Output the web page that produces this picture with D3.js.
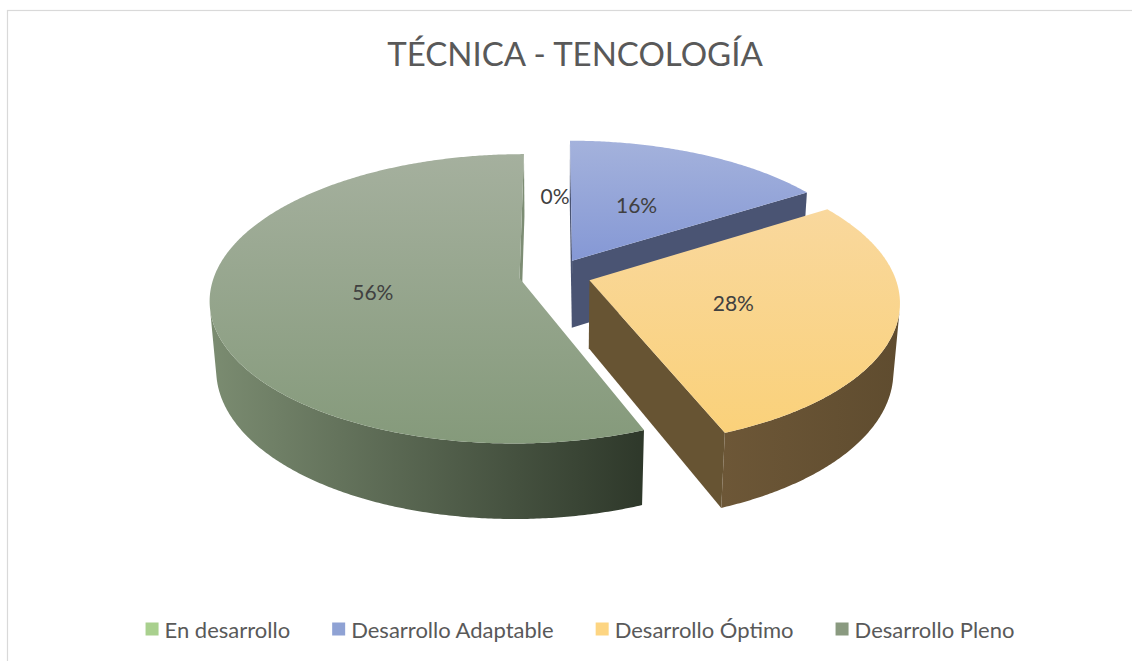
<!DOCTYPE html>
<html>
<head>
<meta charset="utf-8">
<script src="https://cdn.jsdelivr.net/npm/d3@7"></script>
<style>
	body { margin: 0; background: #fff; }
	svg { display: block; font-family: Lato, "Open Sans", sans-serif; }
</style>
</head>
<body>
<svg id="chart" width="1132" height="661"></svg>
<script>
// data
const chartTitle = "TÉCNICA - TENCOLOGÍA";
const categories = ["En desarrollo", "Desarrollo Adaptable", "Desarrollo Óptimo", "Desarrollo Pleno"];
const values = [0, 16, 28, 56];
const valueLabels = ["0%", "16%", "28%", "56%"];

// colours per category (legend swatch, top face gradient, wall gradient, cut face)
const legendColors = ["#a9d08e", "#8fa2d4", "#fdd582", "#8a9a80"];
const topColors = [["#b5d8a0", "#a2c98a"], ["#a4b2dc", "#8598d5"], ["#f9d89d", "#fad17a"], ["#a5b09e", "#859a7b"]];
const wallColors = [["#6b8a58", "#4f6a40"], ["#4c5675", "#444e6b"], ["#6d5737", "#5f4c2f"], ["#7b8c71", "#2e382a"]];
const cutColors = ["#7a9a66", "#4a5473", "#675433", "#7d8d74"];

var svg = d3.select("#chart");

// chart border
svg.append("rect")
	.attr("x", 7.5).attr("y", 10.5)
	.attr("width", 1130).attr("height", 660)
	.attr("fill", "#fff")
	.attr("stroke", "#d9d9d9")
	.attr("stroke-width", 1.2);

svg.append("text")
	.attr("x", 575).attr("y", 66)
	.attr("text-anchor", "middle")
	.attr("font-size", "33px")
	.attr("fill", "#595959")
	.text(chartTitle);

// 3d pie settings
var cx = 555, cy = 275, R = 305, explode = 36, depth = 78, D = 1900;
var tilt = 27.5 * Math.PI / 180;
var sinE = Math.sin(tilt), cosE = Math.cos(tilt);
var camY = -D * cosE; // camera sits at X = 0, in front of the pie

function project(X, Y, h) {
	var f = D / (D + Y * cosE - h * sinE);
	return [cx + X * f, cy - (Y * sinE + h * cosE) * f];
}

var pie = d3.pie().sort(null).value(function (d) { return d; });
var arcs = pie(values);
arcs.forEach(function (a, i) {
	a.i = i;
	a.mid = (a.startAngle + a.endAngle) / 2;
	a.ox = explode * Math.sin(a.mid);
	a.oy = explode * Math.cos(a.mid);
});

var line = d3.line();
var defs = svg.append("defs");

function addGradient(id, c, vertical) {
	var g = defs.append("linearGradient").attr("id", id)
		.attr("x1", 0).attr("y1", 0)
		.attr("x2", vertical ? 0 : 1).attr("y2", vertical ? 1 : 0);
	g.append("stop").attr("offset", "0%").attr("stop-color", c[0]);
	g.append("stop").attr("offset", "100%").attr("stop-color", c[1]);
}

categories.forEach(function (c, i) {
	addGradient("top" + i, topColors[i], true);
	addGradient("wall" + i, wallColors[i], false);
});

function rim(a, ang, h) {
	return project(a.ox + R * Math.sin(ang), a.oy + R * Math.cos(ang), h);
}

var pieGroup = svg.append("g").attr("id", "pie");

// back slices first
var drawOrder = arcs.filter(function (a) { return a.value > 0; })
	.sort(function (p, q) { return q.oy - p.oy; });

drawOrder.forEach(function (a) {
	var g = pieGroup.append("g");
	var i = a.i;
	var a0 = a.startAngle, a1 = a.endAngle;
	var cTop = project(a.ox, a.oy, 0), cBot = project(a.ox, a.oy, -depth);

	// cut faces
	var startVisible = (0 - a.ox) * (-Math.cos(a0)) + (camY - a.oy) * Math.sin(a0) > 0;
	var endVisible = (0 - a.ox) * Math.cos(a1) + (camY - a.oy) * (-Math.sin(a1)) > 0;
	if (startVisible) {
		g.append("path")
			.attr("d", line([cTop, rim(a, a0, 0), rim(a, a0, -depth), cBot]) + "Z")
			.attr("fill", cutColors[i]);
	}
	if (endVisible) {
		g.append("path")
			.attr("d", line([cTop, rim(a, a1, 0), rim(a, a1, -depth), cBot]) + "Z")
			.attr("fill", cutColors[i]);
	}

	// outer wall, only the parts that face the camera
	var steps = Math.max(2, Math.ceil((a1 - a0) / (Math.PI / 360)));
	var runs = [], run = null;
	for (var s = 0; s <= steps; s++) {
		var ang = a0 + (a1 - a0) * s / steps;
		var px = a.ox + R * Math.sin(ang), py = a.oy + R * Math.cos(ang);
		var vis = (0 - px) * Math.sin(ang) + (camY - py) * Math.cos(ang) > 0;
		if (vis) {
			if (!run) { run = []; runs.push(run); }
			run.push(ang);
		} else {
			run = null;
		}
	}
	runs.forEach(function (r) {
		if (r.length < 2) return;
		var pts = r.map(function (ang) { return rim(a, ang, 0); });
		var bottom = r.slice().reverse().map(function (ang) { return rim(a, ang, -depth); });
		g.append("path")
			.attr("d", line(pts.concat(bottom)) + "Z")
			.attr("fill", "url(#wall" + i + ")");
	});

	// top face
	var topPts = [cTop];
	for (var s = 0; s <= steps; s++) {
		topPts.push(rim(a, a0 + (a1 - a0) * s / steps, 0));
	}
	g.append("path")
		.attr("d", line(topPts) + "Z")
		.attr("fill", "url(#top" + i + ")");
});

// data labels
function labelPos(a) {
	return project(a.ox + 0.48 * R * Math.sin(a.mid), a.oy + 0.5 * R * Math.cos(a.mid), 0);
}
svg.append("g").selectAll("text")
	.data(arcs)
	.enter()
	.append("text")
	.attr("x", function (a) { return labelPos(a)[0]; })
	.attr("y", function (a) { return labelPos(a)[1]; })
	.attr("text-anchor", "middle")
	.attr("dominant-baseline", "central")
	.attr("font-size", "21px")
	.attr("fill", "#404040")
	.text(function (a) { return valueLabels[a.i]; });

// legend
var legend = svg.append("g").attr("id", "legend");
var items = legend.selectAll("g")
	.data(categories)
	.enter()
	.append("g");
items.append("rect")
	.attr("width", 13).attr("height", 13)
	.attr("y", -6.5)
	.attr("fill", function (d, i) { return legendColors[i]; });
items.append("text")
	.attr("x", 19)
	.attr("dominant-baseline", "central")
	.attr("font-size", "22px")
	.attr("fill", "#595959")
	.text(function (d) { return d; });

var xPos = 0, gap = 42, offsets = [];
items.each(function () {
	offsets.push(xPos);
	xPos += this.getBBox().width + gap;
});
var legendWidth = xPos - gap;
var legendX = 580 - legendWidth / 2;
items.attr("transform", function (d, i) { return "translate(" + (legendX + offsets[i]) + ",629)"; });
</script>
</body>
</html>
